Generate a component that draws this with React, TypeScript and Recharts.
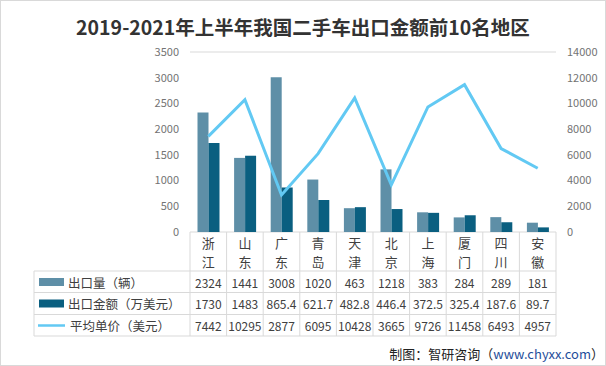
import React from "react";
import {
  ComposedChart,
  Bar,
  Line,
  XAxis,
  YAxis,
  CartesianGrid,
} from "recharts";

const categories = ["浙江", "山东", "广东", "青岛", "天津", "北京", "上海", "厦门", "四川", "安徽"];
const exportVolume = [2324, 1441, 3008, 1020, 463, 1218, 383, 284, 289, 181];
const exportValue = [1730, 1483, 865.4, 621.7, 482.8, 446.4, 372.5, 325.4, 187.6, 89.7];
const avgPrice = [7442, 10295, 2877, 6095, 10428, 3665, 9726, 11458, 6493, 4957];
const leftTicks = [0, 500, 1000, 1500, 2000, 2500, 3000, 3500];
const rightTicks = [0, 2000, 4000, 6000, 8000, 10000, 12000, 14000];

const seriesNames = ["出口量（辆）", "出口金额（万美元）", "平均单价（美元）"];
const colors = ["#5e8fa7", "#0a5f80", "#62c9f3"];

const W = 606;
const H = 366;
const PLOT_LEFT = 190;
const PLOT_RIGHT = 556;
const colW = (PLOT_RIGHT - PLOT_LEFT) / categories.length;
const gridColor = "#d9d9d9";
const textColor = "#404040";

const data = categories.map((name, i) => ({
  name,
  volume: exportVolume[i],
  value: exportValue[i],
  price: avgPrice[i],
}));

// row offsets below the x axis (axis sits at y)
const rowLines = [39, 60.5, 82.5, 104];
const rowCenters = [50, 71.5, 93.5];

function CategoryTick(props: any) {
  const { x, y, payload } = props;
  const i = payload.index;
  const d = data[i];
  const left = x - colW / 2;
  const vals = [d.volume, d.value, d.price];
  return (
    <g>
      <line x1={left} y1={y} x2={left} y2={y + rowLines[3]} stroke={gridColor} />
      {i === categories.length - 1 && (
        <line x1={left + colW} y1={y} x2={left + colW} y2={y + rowLines[3]} stroke={gridColor} />
      )}
      {d.name.split("").map((ch: string, k: number) => (
        <text
          key={k}
          x={x}
          y={y + 10.8 + k * 19}
          textAnchor="middle"
          dominantBaseline="central"
          fontSize={13}
          fill={textColor}
        >
          {ch}
        </text>
      ))}
      {vals.map((v, k) => (
        <text
          key={"v" + k}
          x={x}
          y={y + rowCenters[k]}
          textAnchor="middle"
          dominantBaseline="central"
          fontSize={12}
          fill={textColor}
        >
          {String(v)}
        </text>
      ))}
    </g>
  );
}

export default function App() {
  const axisY = 232;
  return (
    <div
      style={{
        position: "absolute",
        left: 0,
        top: 0,
        width: W,
        height: H,
        boxSizing: "border-box",
        border: "1px solid #d9d9d9",
        background: "#fff",
        fontFamily: "'Noto Sans CJK SC', 'Noto Sans', sans-serif",
      }}
    >
      <div style={{ position: "absolute", left: -1, top: -1 }}>
        <ComposedChart
          width={W}
          height={H}
          data={data}
          margin={{ top: 52, right: 0, bottom: 30, left: 0 }}
          barCategoryGap="20.5%"
          barGap={0}
        >
          <CartesianGrid vertical={false} stroke={gridColor} />
          <XAxis
            dataKey="name"
            height={104}
            interval={0}
            tickLine={false}
            axisLine={false}
            tickSize={0}
            tickMargin={0}
            tick={(p: any) => <CategoryTick {...p} />}
          />
          <YAxis
            yAxisId="left"
            width={190}
            domain={[0, 3500]}
            ticks={leftTicks}
            tickLine={false}
            axisLine={false}
            tickMargin={5}
            tick={{ fontSize: 11, fill: "#737373" }}
          />
          <YAxis
            yAxisId="right"
            orientation="right"
            width={50}
            domain={[0, 14000]}
            ticks={rightTicks}
            tickLine={false}
            axisLine={false}
            tickMargin={5}
            tick={{ fontSize: 11, fill: "#737373" }}
          />
          <Bar yAxisId="left" dataKey="volume" name={seriesNames[0]} fill={colors[0]} isAnimationActive={false} />
          <Bar yAxisId="left" dataKey="value" name={seriesNames[1]} fill={colors[1]} isAnimationActive={false} />
          <Line
            yAxisId="right"
            dataKey="price"
            name={seriesNames[2]}
            stroke={colors[2]}
            strokeWidth={3}
            dot={false}
            type="linear"
            isAnimationActive={false}
          />
        </ComposedChart>
      </div>
      <svg
        width={W}
        height={H}
        style={{ position: "absolute", left: -1, top: -1, pointerEvents: "none" }}
      >
        <text
          x={303}
          y={26}
          textAnchor="middle"
          dominantBaseline="central"
          fontSize={19.5}
          fontWeight="bold"
          fill="#333"
        >
          2019-2021年上半年我国二手车出口金额前10名地区
        </text>
        {rowLines.map((o) => (
          <line key={o} x1={34} y1={axisY + o} x2={PLOT_RIGHT} y2={axisY + o} stroke={gridColor} />
        ))}
        <line x1={34} y1={axisY + rowLines[0]} x2={34} y2={axisY + rowLines[3]} stroke={gridColor} />
        <rect x={39} y={axisY + rowCenters[0] - 4} width={25} height={8} fill={colors[0]} />
        <rect x={39} y={axisY + rowCenters[1] - 4} width={25} height={8} fill={colors[1]} />
        <line
          x1={38}
          y1={axisY + rowCenters[2]}
          x2={65}
          y2={axisY + rowCenters[2]}
          stroke={colors[2]}
          strokeWidth={2.5}
        />
        {seriesNames.map((n, k) => (
          <text
            key={n}
            x={k === 2 ? 70 : 68}
            y={axisY + rowCenters[k]}
            dominantBaseline="central"
            fontSize={12.5}
            fill={textColor}
          >
            {n}
          </text>
        ))}
        <text x={604} y={353} textAnchor="end" dominantBaseline="central" fontSize={13} fill="#222">
          制图：智研咨询（<tspan fill="#1f4e9a">www.chyxx.com</tspan>）
        </text>
      </svg>
    </div>
  );
}
